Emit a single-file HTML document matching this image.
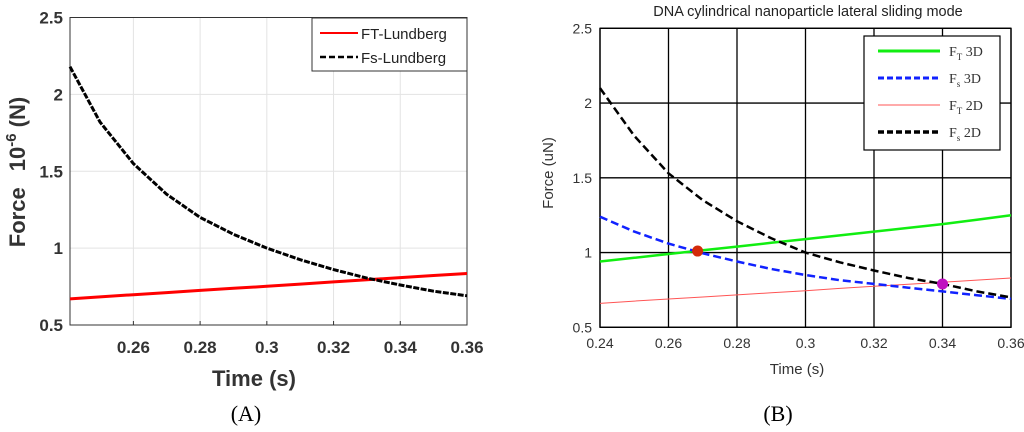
<!DOCTYPE html>
<html><head><meta charset="utf-8"><style>
html,body{margin:0;padding:0;background:#fff;width:1024px;height:432px;overflow:hidden}
svg{display:block;font-family:"Liberation Sans",sans-serif}
</style></head><body>
<svg id="s" width="1024" height="432" viewBox="0 0 1024 432"></svg>
<script>
// Chart A data
const aX = [0.241,0.25,0.26,0.27,0.28,0.29,0.30,0.31,0.32,0.33,0.34,0.35,0.36];
const aFs = [2.18,1.82,1.55,1.35,1.20,1.09,1.00,0.925,0.86,0.805,0.76,0.72,0.69];
const aFt = [0.67,0.683,0.697,0.711,0.725,0.739,0.752,0.766,0.780,0.794,0.808,0.822,0.835];
const aXTicks = ["0.26","0.28","0.3","0.32","0.34","0.36"];
const aYTicks = ["0.5","1","1.5","2","2.5"];
// Chart B data
const bX = [0.24,0.25,0.26,0.27,0.28,0.29,0.30,0.31,0.32,0.33,0.34,0.35,0.36];
const bFs2 = [2.10,1.78,1.53,1.35,1.21,1.095,1.00,0.935,0.88,0.83,0.79,0.74,0.70];
const bFs3 = [1.24,1.14,1.06,0.995,0.94,0.89,0.85,0.815,0.79,0.765,0.74,0.715,0.69];
const bFt3 = [0.94,0.965,0.99,1.015,1.04,1.065,1.09,1.115,1.14,1.165,1.19,1.22,1.25];
const bFt2 = [0.66,0.675,0.689,0.703,0.717,0.731,0.745,0.76,0.774,0.788,0.802,0.816,0.83];
const bMarkX = [0.2685,0.34];
const bMarkY = [1.01,0.79];
const bXTicks = ["0.24","0.26","0.28","0.3","0.32","0.34","0.36"];
const bYTicks = ["0.5","1","1.5","2","2.5"];

const NS="http://www.w3.org/2000/svg", S=document.getElementById('s');
function mk(tag,attrs,parent,txt){const e=document.createElementNS(NS,tag);for(const k in attrs)e.setAttribute(k,attrs[k]);if(txt!==undefined)e.textContent=txt;(parent||S).appendChild(e);return e;}

// ---------- Chart A ----------
const aL=70,aR=467,aT=17.5,aB=325,aX0=0.241,aX1=0.36;
const ax=v=>aL+(v-aX0)/(aX1-aX0)*(aR-aL), ay=v=>aB-(v-0.5)/2*(aB-aT);
const gA=mk('g',{});  
mk('rect',{x:aL,y:aT,width:aR-aL,height:aB-aT,fill:'#fff'},gA);
aXTicks.forEach(t=>{const x=ax(+t);
 const l=mk('line',{x1:x,x2:x,y1:aT,y2:aB,stroke:'#e3e3e3','stroke-width':1},gA);
 mk('line',{x1:x,x2:x,y1:aB,y2:aB-4,stroke:'#333'},gA);
 const tx=mk('text',{x:x,y:353,'text-anchor':'middle','font-size':17,'font-weight':'bold',fill:'#333'},gA,t);});
aYTicks.forEach(t=>{const y=ay(+t);
 const l=mk('line',{x1:aL,x2:aR,y1:y,y2:y,stroke:'#e3e3e3'},gA);
 const tx=mk('text',{x:63,y:y+6,'text-anchor':'end','font-size':17,'font-weight':'bold',fill:'#333'},gA,t);});
mk('rect',{x:aL,y:aT,width:aR-aL,height:aB-aT,fill:'none',stroke:'#333','stroke-width':1},gA);
const pa=(xs,ys)=>xs.map((v,i)=>(i?'L':'M')+ax(v).toFixed(1)+','+ay(ys[i]).toFixed(1)).join('');
let p=mk('path',{d:pa(aX,aFt),fill:'none',stroke:'#f00','stroke-width':3},gA);
p=mk('path',{d:pa(aX,aFs),fill:'none',stroke:'#000','stroke-width':3,'stroke-dasharray':'6,1.5'},gA);
const yl=mk('text',{transform:'translate(25,172) rotate(-90)','text-anchor':'middle','font-size':22,'font-weight':'bold',fill:'#333'},gA);

yl.innerHTML='Force<tspan dx="16">10</tspan><tspan dy="-9" font-size="15">-6</tspan><tspan dy="9"> (N)</tspan>';
let t=mk('text',{x:254,y:386,'text-anchor':'middle','font-size':22,'font-weight':'bold',fill:'#333'},gA,'Time (s)');
t=mk('text',{x:246,y:421,'text-anchor':'middle','font-size':22,'font-family':'Liberation Serif, serif',fill:'#000'},gA,'(A)');
const legA=mk('g',{},gA);
mk('rect',{x:312,y:18,width:155,height:53,fill:'#fff',stroke:'#333'},legA);
mk('line',{x1:320,x2:358,y1:33,y2:33,stroke:'#f00','stroke-width':2},legA);
mk('line',{x1:320,x2:358,y1:57,y2:57,stroke:'#000','stroke-width':2.5,'stroke-dasharray':'6,3'},legA);
mk('text',{x:361,y:39,'font-size':15,fill:'#222'},legA,'FT-Lundberg');
mk('text',{x:361,y:63,'font-size':15,fill:'#222'},legA,'Fs-Lundberg');

// ---------- Chart B ----------
const bL=600,bR=1011,bT=28.3,bB=327.3,bX0=0.24,bX1=0.36;
const bx=v=>bL+(v-bX0)/(bX1-bX0)*(bR-bL), by=v=>bB-(v-0.5)/2*(bB-bT);
const gB=mk('g',{});  
t=mk('text',{x:808,y:16,'text-anchor':'middle','font-size':14.5,fill:'#222'},gB,'DNA cylindrical nanoparticle lateral sliding mode');
bXTicks.forEach(tk=>{const x=bx(+tk);
 const l=mk('line',{x1:x,x2:x,y1:bT,y2:bB,stroke:'#000','stroke-width':1.3},gB);
 const tx=mk('text',{x:x,y:348,'text-anchor':'middle','font-size':14,fill:'#333'},gB,tk);});
bYTicks.forEach(tk=>{const y=by(+tk);
 const l=mk('line',{x1:bL,x2:bR,y1:y,y2:y,stroke:'#000','stroke-width':1.3},gB);
 const tx=mk('text',{x:592,y:y+5,'text-anchor':'end','font-size':14,fill:'#333'},gB,tk);});
mk('rect',{x:bL,y:bT,width:bR-bL,height:bB-bT,fill:'none',stroke:'#000','stroke-width':1.3},gB);
const pb=(xs,ys)=>xs.map((v,i)=>(i?'L':'M')+bx(v).toFixed(1)+','+by(ys[i]).toFixed(1)).join('');
p=mk('path',{d:pb(bX,bFt2),fill:'none',stroke:'#f55','stroke-width':1},gB);
p=mk('path',{d:pb(bX,bFt3),fill:'none',stroke:'#1e1','stroke-width':2.5},gB);
p=mk('path',{d:pb(bX,bFs3),fill:'none',stroke:'#12f','stroke-width':2.5,'stroke-dasharray':'8,4'},gB);
p=mk('path',{d:pb(bX,bFs2),fill:'none',stroke:'#000','stroke-width':2.5,'stroke-dasharray':'8,4'},gB);
const mc=['#d42a0a','#c010c0'];
bMarkX.forEach((v,i)=>{const c=mk('circle',{cx:bx(v),cy:by(bMarkY[i]),r:5.5,fill:mc[i]},gB);});
t=mk('text',{transform:'translate(553,173) rotate(-90)','text-anchor':'middle','font-size':15,fill:'#333'},gB,'Force (uN)');
t=mk('text',{x:797,y:374,'text-anchor':'middle','font-size':15,fill:'#333'},gB,'Time (s)');
t=mk('text',{x:778,y:421,'text-anchor':'middle','font-size':22,'font-family':'Liberation Serif, serif',fill:'#000'},gB,'(B)');
const legB=mk('g',{},gB);
mk('rect',{x:864,y:36,width:136,height:114,fill:'#fff',stroke:'#000','stroke-width':1.2},legB);
const ls=[['#1e1',3,'none','T','3D'],['#12f',3,'6,3','s','3D'],['#f55',1,'none','T','2D'],['#000',3.5,'6,3','s','2D']];
ls.forEach((e,i)=>{const y=51+i*27;
 mk('line',{x1:878,x2:940,y1:y,y2:y,stroke:e[0],'stroke-width':e[1],'stroke-dasharray':e[2]},legB);
 const tx=mk('text',{x:949,y:y+5,'font-size':14,'font-family':'Liberation Serif, serif',fill:'#333'},legB);
 tx.innerHTML='F<tspan dy="4" font-size="9">'+e[3]+'</tspan><tspan dy="-4"> '+e[4]+'</tspan>';});
</script>
</body></html>
